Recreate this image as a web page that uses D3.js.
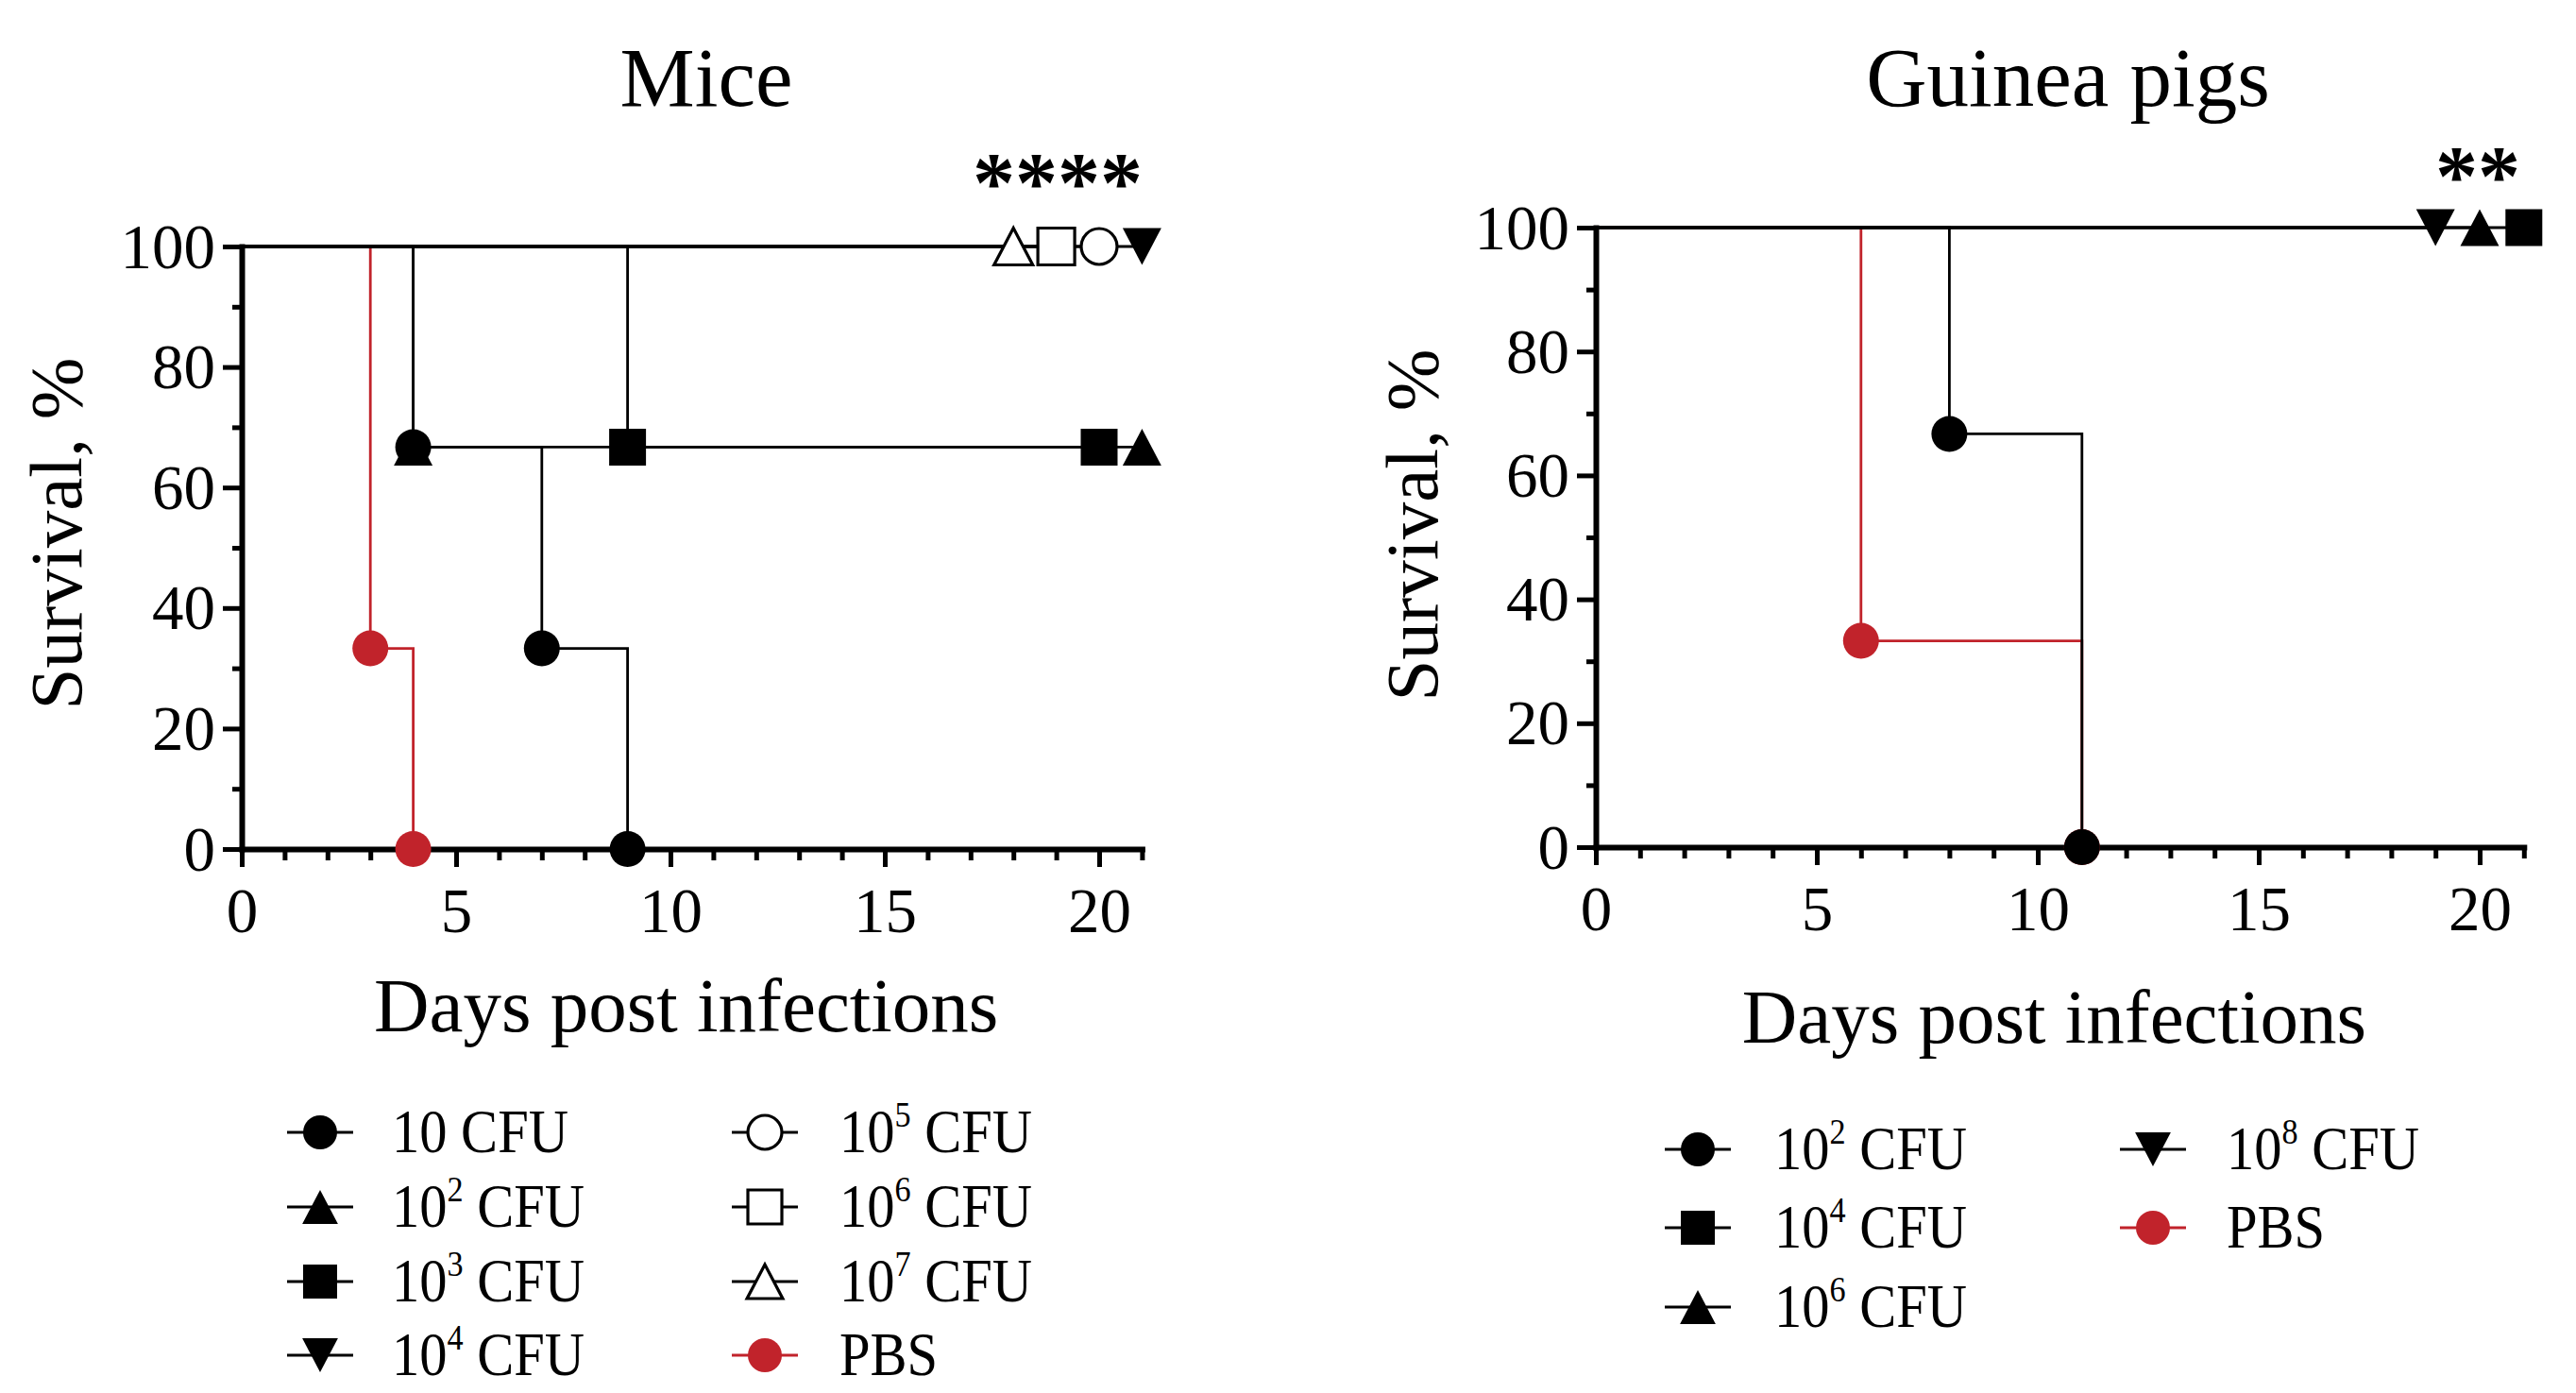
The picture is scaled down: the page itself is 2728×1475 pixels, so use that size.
<!DOCTYPE html>
<html>
<head>
<meta charset="utf-8">
<script src="https://cdn.jsdelivr.net/npm/d3@7"></script>
<style>
  body { margin: 0; background: #fff; }
  svg { display: block; font-family: "Liberation Serif", "Times New Roman", serif; }
</style>
</head>
<body>
<svg id="chart" width="2728" height="1475"></svg>
<script>
// ===============================
// Data
// ===============================
const dayTicks = [0, 5, 10, 15, 20];
const survTicks = [0, 20, 40, 60, 80, 100];

// Mice
const miceLabels = ["10 CFU", "10^2 CFU", "10^3 CFU", "10^4 CFU", "10^5 CFU", "10^6 CFU", "10^7 CFU", "PBS"];
const miceShapes = ["circle", "triangle", "square", "triangleDown", "circleOpen", "squareOpen", "triangleOpen", "circle"];
const miceDays = [[0, 4, 7, 9], [0, 4, 21], [0, 9, 20], [0, 21], [0, 20], [0, 19], [0, 18], [0, 3, 4]];
const miceSurv = [[100, 66.7, 33.3, 0], [100, 66.7, 66.7], [100, 66.7, 66.7], [100, 100], [100, 100], [100, 100], [100, 100], [100, 33.3, 0]];
const miceStars = "****";

// Guinea pigs
const gpLabels = ["10^2 CFU", "10^4 CFU", "10^6 CFU", "10^8 CFU", "PBS"];
const gpShapes = ["circle", "square", "triangle", "triangleDown", "circle"];
const gpDays = [[0, 8, 11], [0, 21], [0, 20], [0, 19], [0, 6, 11]];
const gpSurv = [[100, 66.7, 0], [100, 100], [100, 100], [100, 100], [100, 33.3, 0]];
const gpStars = "**";

// ===============================
// Layout
// ===============================
const red = "#c1232b";
const black = "#000";

const panels = [
    {
        title: "Mice", labels: miceLabels, shapes: miceShapes, days: miceDays, surv: miceSurv, stars: miceStars,
        x0: 256, dayW: 45.4, y0: 899, y100: 261,
        titleX: 748, xTitleY: 1092, yTitleX: 86, yTitleY: 565,
        starX: 1120, starY: 182,
        legendCols: [339, 810], legendText: [415, 889], legendRows: [1199, 1278, 1357, 1435], perCol: 4
    },
    {
        title: "Guinea pigs", labels: gpLabels, shapes: gpShapes, days: gpDays, surv: gpSurv, stars: gpStars,
        x0: 1690, dayW: 46.8, y0: 897, y100: 241,
        titleX: 2190, xTitleY: 1104, yTitleX: 1522, yTitleY: 556,
        starX: 2624, starY: 175,
        legendCols: [1798, 2280], legendText: [1879, 2358], legendRows: [1217, 1300, 1384], perCol: 3
    }
];

const svg = d3.select("#chart");

// marker path centred on 0,0
function markerPath(shape, s) {
    const kind = shape.replace("Open", "");
    if (kind === "circle") return d3.symbol(d3.symbolCircle, Math.PI * (s / 2) * (s / 2))();
    if (kind === "square") return d3.symbol(d3.symbolSquare, s * s)();
    const w = s * 1.05, h = s;
    if (kind === "triangle") return `M0,${-h / 2}L${w / 2},${h / 2}L${-w / 2},${h / 2}Z`;
    return `M0,${h / 2}L${w / 2},${-h / 2}L${-w / 2},${-h / 2}Z`;
}

function styleMarker(sel, shape, color) {
    if (shape.endsWith("Open")) {
        sel.attr("fill", "#fff").attr("stroke", black).attr("stroke-width", 3.2);
    } else {
        sel.attr("fill", color).attr("stroke", "none");
    }
}

// "10^2 CFU" -> 10 with raised 2
function writeLabel(text, label) {
    const m = label.match(/^(\d+)\^(\d+)(.*)$/);
    if (!m) { text.text(label); return; }
    text.append("tspan").text(m[1]);
    text.append("tspan").attr("font-size", 38).attr("dy", -27).text(m[2]);
    text.append("tspan").attr("dy", 27).text(m[3]);
}

panels.forEach(p => {
    const g = svg.append("g");
    const x = d3.scaleLinear().domain([0, 21]).range([p.x0, p.x0 + 21 * p.dayW]);
    const y = d3.scaleLinear().domain([0, 100]).range([p.y0, p.y100]);
    const colorOf = i => (p.labels[i] === "PBS" ? red : black);

    // title
    g.append("text")
        .attr("x", p.titleX).attr("y", 112)
        .attr("text-anchor", "middle")
        .attr("font-size", 89)
        .text(p.title);

    // x axis: minor then major
    g.append("g")
        .attr("transform", `translate(0,${p.y0})`)
        .call(d3.axisBottom(x).tickValues(d3.range(0, 22)).tickSize(12).tickSizeOuter(0).tickFormat(""))
        .call(a => a.select(".domain").remove())
        .call(a => a.selectAll(".tick line").attr("stroke", black).attr("stroke-width", 5));

    g.append("g")
        .attr("transform", `translate(0,${p.y0})`)
        .call(d3.axisBottom(x).tickValues(dayTicks).tickSize(19).tickSizeOuter(0))
        .call(a => a.select(".domain").attr("stroke", black).attr("stroke-width", 6).attr("stroke-linecap", "square"))
        .call(a => a.selectAll(".tick line").attr("stroke", black).attr("stroke-width", 5))
        .call(a => a.selectAll(".tick text")
            .attr("y", 88).attr("dy", null)
            .attr("font-size", 67)
            .attr("font-family", "Liberation Serif")
            .attr("fill", black));

    // y axis: minor then major
    g.append("g")
        .attr("transform", `translate(${p.x0},0)`)
        .call(d3.axisLeft(y).tickValues([10, 30, 50, 70, 90]).tickSize(10).tickSizeOuter(0).tickFormat(""))
        .call(a => a.select(".domain").remove())
        .call(a => a.selectAll(".tick line").attr("stroke", black).attr("stroke-width", 5));

    g.append("g")
        .attr("transform", `translate(${p.x0},0)`)
        .call(d3.axisLeft(y).tickValues(survTicks).tickSize(20).tickSizeOuter(0))
        .call(a => a.select(".domain").attr("stroke", black).attr("stroke-width", 6).attr("stroke-linecap", "square"))
        .call(a => a.selectAll(".tick line").attr("stroke", black).attr("stroke-width", 5))
        .call(a => a.selectAll(".tick text")
            .attr("x", -28).attr("dy", 22)
            .attr("font-size", 67)
            .attr("font-family", "Liberation Serif")
            .attr("fill", black));

    // axis titles
    g.append("text")
        .attr("x", (x(0) + x(21)) / 2 - 6).attr("y", p.xTitleY)
        .attr("text-anchor", "middle")
        .attr("font-size", 81)
        .text("Days post infections");

    g.append("text")
        .attr("transform", `translate(${p.yTitleX},${p.yTitleY}) rotate(-90)`)
        .attr("text-anchor", "middle")
        .attr("font-size", 79)
        .text("Survival, %");

    // survival step lines, last series first so the first sits on top
    const line = d3.line().x(d => x(d[0])).y(d => y(d[1])).curve(d3.curveStepAfter);
    const order = d3.range(p.labels.length).reverse();

    order.forEach(i => {
        const pts = p.days[i].map((d, k) => [d, p.surv[i][k]]);
        g.append("path")
            .attr("d", line(pts))
            .attr("fill", "none")
            .attr("stroke", colorOf(i))
            .attr("stroke-width", 2.8);
    });

    order.forEach(i => {
        const pts = p.days[i].map((d, k) => [d, p.surv[i][k]]).slice(1);
        const shape = p.shapes[i];
        const size = shape.startsWith("circle") ? 38 : 39;
        g.selectAll(null)
            .data(pts)
            .enter()
            .append("path")
            .attr("transform", d => `translate(${x(d[0])},${y(d[1])})`)
            .attr("d", markerPath(shape, size))
            .call(sel => styleMarker(sel, shape, colorOf(i)));
    });

    // significance stars
    g.append("text")
        .attr("x", p.starX).attr("y", p.starY + 42)
        .attr("text-anchor", "middle")
        .attr("font-size", 90)
        .attr("font-weight", "bold")
        .text(p.stars);

    // legend
    p.labels.forEach((lab, i) => {
        const col = Math.floor(i / p.perCol);
        const row = i % p.perCol;
        const cx = p.legendCols[col];
        const cy = p.legendRows[row];
        const color = colorOf(i);

        g.append("line")
            .attr("x1", cx - 35).attr("x2", cx + 35)
            .attr("y1", cy).attr("y2", cy)
            .attr("stroke", color).attr("stroke-width", 3);

        g.append("path")
            .attr("transform", `translate(${cx},${cy})`)
            .attr("d", markerPath(p.shapes[i], 36))
            .call(sel => styleMarker(sel, p.shapes[i], color));

        const t = g.append("text")
            .attr("transform", `translate(${p.legendText[col]},${cy + 21}) scale(0.9,1)`)
            .attr("font-size", 65);
        writeLabel(t, lab);
    });
});
</script>
</body>
</html>
